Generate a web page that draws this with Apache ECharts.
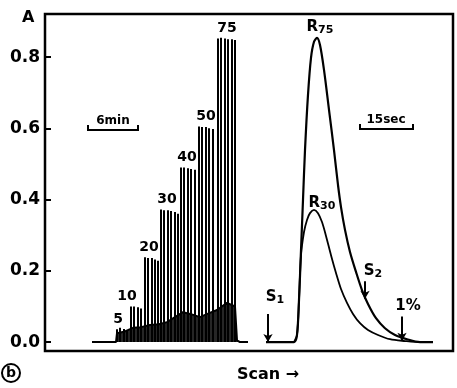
<!DOCTYPE html>
<html>
<head>
<meta charset="utf-8">
<script src="https://cdn.jsdelivr.net/npm/echarts@6/dist/echarts.min.js"></script>
<style>html,body{margin:0;background:#fff}#chart{width:457px;height:388px}</style>
</head>
<body>
<div id="chart"></div>
<script>
// left trace: injection groups, scan position of each spike and its peak absorbance
var groupNames = ['5', '10', '20', '30', '40', '50', '75'];
var groupScan = [
    [72, 75, 79, 82],
    [86, 89, 93, 96],
    [100, 103, 107, 110, 113],
    [116, 119, 123, 126, 130, 133],
    [136, 139, 143, 146, 150],
    [154, 157, 161, 164, 168],
    [173, 176, 180, 183, 187, 190]
];
var groupPeak = [
    [0.036, 0.040, 0.037, 0.034],
    [0.100, 0.100, 0.098, 0.094],
    [0.238, 0.236, 0.236, 0.232, 0.228],
    [0.372, 0.370, 0.370, 0.368, 0.365, 0.360],
    [0.490, 0.490, 0.488, 0.486, 0.484],
    [0.605, 0.604, 0.604, 0.600, 0.598],
    [0.852, 0.854, 0.852, 0.850, 0.850, 0.848]
];
// baseline + dense lower band between spikes
var troughScan = [47, 71, 72, 80, 88, 96, 105, 114, 122, 130, 138, 146, 155, 163, 172, 182, 190, 192, 195, 203];
var troughVal = [0, 0, 0.025, 0.030, 0.040, 0.042, 0.048, 0.050, 0.056, 0.070, 0.084, 0.078, 0.070, 0.080, 0.090, 0.110, 0.100, 0.005, 0, 0];

// right trace: recorded peaks R75 and R30
var r75Scan = [221, 249, 252, 254, 256, 258, 260, 263, 266, 269, 272, 275, 279, 284, 289, 293, 296, 300, 305, 311, 317, 323, 331, 340, 350, 362, 375, 388];
var r75Val = [0, 0, 0.02, 0.118, 0.258, 0.399, 0.539, 0.694, 0.798, 0.843, 0.854, 0.834, 0.764, 0.652, 0.539, 0.441, 0.379, 0.315, 0.253, 0.197, 0.146, 0.107, 0.067, 0.039, 0.02, 0.008, 0, 0];
var r30Scan = [249, 252, 254, 256, 259, 262, 265, 269, 273, 277, 281, 286, 291, 296, 302, 308, 315, 323, 333, 345, 360, 375, 388];
var r30Val = [0, 0.02, 0.118, 0.244, 0.309, 0.343, 0.362, 0.371, 0.362, 0.337, 0.298, 0.244, 0.194, 0.149, 0.11, 0.079, 0.053, 0.034, 0.02, 0.008, 0.003, 0, 0];

var yTicks = [0, 0.2, 0.4, 0.6, 0.8];

var chart = echarts.init(document.getElementById('chart'));

function zip(xs, ys) {
    return xs.map(function (x, i) { return [x, ys[i]]; });
}

// bar label offsets (x px) for the group numbers
var labelShift = [1, -4, 4, 6, 6, 7, 9];
var spikes = [];
groupScan.forEach(function (xs, g) {
    xs.forEach(function (x, i) {
        var item = { value: [x, groupPeak[g][i]] };
        if (i === 0) {
            item.label = {
                show: true, position: 'top', distance: 3, offset: [labelShift[g], 0],
                formatter: groupNames[g]
            };
        }
        spikes.push(item);
    });
});

var r75Data = zip(r75Scan, r75Val);
var r30Data = zip(r30Scan, r30Val);

var bold = { fontFamily: 'DejaVu Sans', fontWeight: 'bold', color: '#000' };
var subRich = {
    b: { fontFamily: 'DejaVu Sans', fontWeight: 'bold', fontSize: 15, color: '#000' },
    s: { fontFamily: 'DejaVu Sans', fontWeight: 'bold', fontSize: 11, color: '#000', padding: [6, 0, 0, 0] }
};

function textMark(x, y, txt) {
    return {
        coord: [x, y], value: txt, symbol: 'circle', symbolSize: 1,
        itemStyle: { color: 'rgba(0,0,0,0)' },
        label: { show: true, position: 'inside', formatter: txt, rich: subRich }
    };
}

var option = {
    backgroundColor: '#fff',
    animation: false,
    grid: { left: 45, right: 4, top: 14, bottom: 37, show: true, borderColor: '#000', borderWidth: 2.5 },
    xAxis: { type: 'value', min: 0, max: 408, show: false },
    yAxis: {
        type: 'value', min: -0.025, max: 0.921,
        axisLine: { show: false },
        splitLine: { show: false },
        axisTick: { show: true, inside: true, length: 6, lineStyle: { color: '#000', width: 2 }, customValues: yTicks },
        axisLabel: {
            customValues: yTicks, margin: 5, fontSize: 17, fontFamily: 'DejaVu Sans', fontWeight: 'bold', color: '#000',
            formatter: function (v) { return v.toFixed(1); }
        }
    },
    series: [
        {
            name: 'band', type: 'line', data: zip(troughScan, troughVal), symbol: 'none',
            lineStyle: { color: '#000', width: 2 }, areaStyle: { color: '#000', opacity: 0.85 }
        },
        {
            name: 'spikes', type: 'bar', data: spikes, barWidth: 2,
            itemStyle: { color: '#000' },
            label: { fontSize: 14, fontFamily: 'DejaVu Sans', fontWeight: 'bold', color: '#000' }
        },
        {
            name: 'R75', type: 'line', data: r75Data, symbol: 'none', smooth: 0.3,
            lineStyle: { color: '#000', width: 2.2 },
            markLine: {
                silent: true, symbol: ['none', 'arrow'], symbolSize: [7, 8],
                lineStyle: { color: '#000', width: 2, type: 'solid' }, label: { show: false },
                data: [
                    [{ coord: [223, 0.079] }, { coord: [223, 0.0] }],
                    [{ coord: [320, 0.171] }, { coord: [320, 0.122] }],
                    [{ coord: [357, 0.072] }, { coord: [357, 0.004] }]
                ]
            },
            markPoint: {
                silent: true,
                data: [
                    textMark(230, 0.126, '{b|S}{s|1}'),
                    textMark(328, 0.199, '{b|S}{s|2}'),
                    textMark(363, 0.101, '{b|1%}'),
                    textMark(275, 0.885, '{b|R}{s|75}'),
                    textMark(277, 0.39, '{b|R}{s|30}')
                ]
            }
        },
        {
            name: 'R30', type: 'line', data: r30Data, symbol: 'none', smooth: 0.3,
            lineStyle: { color: '#000', width: 1.8 }
        }
    ],
    graphic: [
        { type: 'text', left: 22, top: 10, style: Object.assign({ text: 'A', fontSize: 16 }, bold) },
        { type: 'circle', shape: { cx: 11, cy: 373, r: 9 }, style: { fill: 'none', stroke: '#000', lineWidth: 2 } },
        { type: 'text', x: 11, y: 373, style: Object.assign({ text: 'b', fontSize: 14, align: 'center', verticalAlign: 'middle' }, bold) },
        { type: 'text', x: 268, y: 375, style: Object.assign({ text: 'Scan \u2192', fontSize: 16, align: 'center', verticalAlign: 'middle' }, bold) },
        // 6 min scale bar
        { type: 'polyline', shape: { points: [[88, 125], [88, 130], [138, 130], [138, 125]] }, style: { stroke: '#000', lineWidth: 2, fill: null } },
        { type: 'text', x: 113, y: 121, style: Object.assign({ text: '6min', fontSize: 12, align: 'center', verticalAlign: 'middle' }, bold) },
        // 15 sec scale bar
        { type: 'polyline', shape: { points: [[360, 124], [360, 129], [413, 129], [413, 124]] }, style: { stroke: '#000', lineWidth: 2, fill: null } },
        { type: 'text', x: 386, y: 120, style: Object.assign({ text: '15sec', fontSize: 12, align: 'center', verticalAlign: 'middle' }, bold) }
    ]
};

chart.setOption(option);
</script>
</body>
</html>
